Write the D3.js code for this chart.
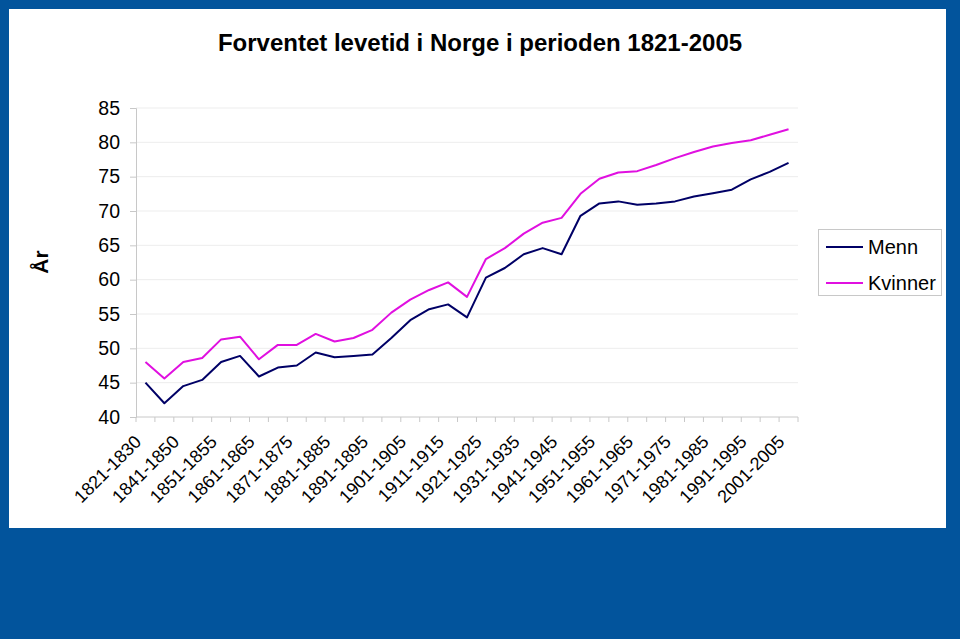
<!DOCTYPE html>
<html><head><meta charset="utf-8">
<script src="https://cdn.jsdelivr.net/npm/d3@7"></script>
<style>html,body{margin:0;padding:0;background:#02549c;}svg{display:block;}</style>
</head><body>
<svg id="c" width="960" height="639"></svg>
<script>
const categories = ["1821-1830","1831-1840","1841-1850","1846-1850","1851-1855","1856-1860","1861-1865","1866-1870","1871-1875","1876-1880","1881-1885","1886-1890","1891-1895","1896-1900","1901-1905","1906-1910","1911-1915","1916-1920","1921-1925","1926-1930","1931-1935","1936-1940","1941-1945","1946-1950","1951-1955","1956-1960","1961-1965","1966-1970","1971-1975","1976-1980","1981-1985","1986-1990","1991-1995","1996-2000","2001-2005"];
const menn = [45.0,42.0,44.5,45.4,48.0,48.9,45.9,47.2,47.5,49.4,48.7,48.9,49.1,51.5,54.1,55.7,56.4,54.5,60.3,61.7,63.7,64.6,63.7,69.3,71.1,71.4,70.9,71.1,71.4,72.1,72.6,73.1,74.6,75.7,77.0];
const kvinner = [48.0,45.6,48.0,48.6,51.3,51.7,48.4,50.5,50.5,52.1,51.0,51.5,52.7,55.2,57.1,58.5,59.6,57.5,63.0,64.6,66.7,68.3,69.0,72.5,74.7,75.6,75.8,76.7,77.7,78.6,79.4,79.9,80.3,81.1,81.9];
const yTicks = [40,45,50,55,60,65,70,75,80,85];
const seriesNames = ["Menn","Kvinner"];
const seriesColors = ["#000066","#e010e0"];
const title = "Forventet levetid i Norge i perioden 1821-2005";
const yLabel = "År";

const svg = d3.select("#c");
const F = "Liberation Sans, Arial, sans-serif";
// white panel
svg.append("rect").attr("x",9).attr("y",9).attr("width",937).attr("height",519).attr("fill","#fff");

const x = d3.scaleBand().domain(categories).range([136,798]).padding(0);
const y = d3.scaleLinear().domain([40,85]).range([417,108]);
const cx = d => x(d) + x.bandwidth()/2;

// gridlines
svg.append("g").selectAll("line").data(yTicks.slice(1)).join("line")
  .attr("x1",136).attr("x2",798).attr("y1",d=>y(d)).attr("y2",d=>y(d))
  .attr("stroke","#ededed").attr("stroke-width",1);

// y axis
const yAxis = d3.axisLeft(y).tickValues(yTicks).tickSize(6).tickPadding(10).tickFormat(d3.format("d"));
const gy = svg.append("g").attr("transform","translate(136,0)").call(yAxis);
gy.select(".domain").attr("stroke","#c8c8c8");
gy.selectAll(".tick line").attr("stroke","#c8c8c8");
gy.selectAll(".tick text").attr("font-family",F).attr("font-size",19.5).attr("fill","#000");

// x axis
const gx = svg.append("g").attr("transform","translate(0,417)");
gx.append("line").attr("x1",136).attr("x2",798).attr("y1",0).attr("y2",0).attr("stroke","#c8c8c8");
const bounds = categories.map(c=>x(c)).concat([x(categories[categories.length-1])+x.bandwidth()]);
gx.selectAll("line.t").data(bounds).join("line").attr("class","t")
  .attr("x1",d=>d).attr("x2",d=>d).attr("y1",0).attr("y2",5).attr("stroke","#c8c8c8");
gx.selectAll("text").data(categories.filter((c,i)=>i%2===0)).join("text")
  .attr("transform",d=>`translate(${cx(d)-3},${26}) rotate(-45)`)
  .attr("text-anchor","end").attr("font-family",F).attr("font-size",18).attr("fill","#000")
  .text(d=>d);

// lines
const line = d3.line().x((d,i)=>cx(categories[i])).y(d=>y(d));
[menn,kvinner].forEach((s,k)=>{
  svg.append("path").datum(s).attr("d",line).attr("fill","none")
    .attr("stroke",seriesColors[k]).attr("stroke-width",2).attr("stroke-linejoin","round");
});

// title
svg.append("text").attr("x",480).attr("y",51).attr("text-anchor","middle")
  .attr("font-family",F).attr("font-size",24).attr("font-weight","bold").text(title);
// y label
svg.append("text").attr("transform","translate(48,262) rotate(-90)").attr("text-anchor","middle")
  .attr("font-family",F).attr("font-size",21).attr("font-weight","bold").text(yLabel);

// legend
const lg = svg.append("g");
lg.append("rect").attr("x",818.5).attr("y",229.5).attr("width",123).attr("height",66)
  .attr("fill","#fff").attr("stroke","#c8c8c8");
seriesNames.forEach((n,i)=>{
  const yy = 247 + i*36;
  lg.append("line").attr("x1",826).attr("x2",863).attr("y1",yy).attr("y2",yy)
    .attr("stroke",seriesColors[i]).attr("stroke-width",2);
  lg.append("text").attr("x",868).attr("y",yy+7).attr("font-family",F).attr("font-size",20).text(n);
});
</script>
</body></html>
